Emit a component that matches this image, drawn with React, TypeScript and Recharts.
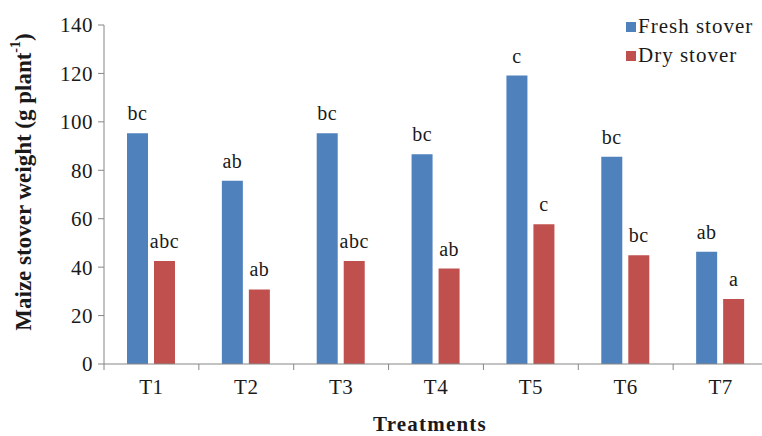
import { BarChart, Bar, XAxis, YAxis, LabelList, Label } from 'recharts';

const treatments = ['T1', 'T2', 'T3', 'T4', 'T5', 'T6', 'T7'];
const fresh = [95.3, 75.7, 95.3, 86.6, 119.1, 85.6, 46.4];
const dry = [42.5, 30.8, 42.5, 39.4, 57.7, 44.9, 26.8];
const freshLetters = ['bc', 'ab', 'bc', 'bc', 'c', 'bc', 'ab'];
const dryLetters = ['abc', 'ab', 'abc', 'ab', 'c', 'bc', 'a'];
const yTicks = [0, 20, 40, 60, 80, 100, 120, 140];

const FONT = '"Liberation Serif", "Times New Roman", serif';
const AXIS = '#868686';
const INK = '#1a1a1a';
const BLUE = '#4F81BD';
const RED = '#C0504D';
const W = 770, H = 436, LEFT = 104, RIGHT = 2, TOP = 25, XH = 72;
const BAND = (W - LEFT - RIGHT) / treatments.length;

const data = treatments.map((t, i) => ({ t, fresh: fresh[i], dry: dry[i], fl: freshLetters[i], dl: dryLetters[i] }));

function XTick({ x, y, payload, index }: any) {
  return (
    <g>
      <line x1={x - BAND / 2} x2={x - BAND / 2} y1={y} y2={y + 6} stroke={AXIS} />
      {index === treatments.length - 1 && <line x1={x + BAND / 2} x2={x + BAND / 2} y1={y} y2={y + 6} stroke={AXIS} />}
      <text x={x} y={y + 30} textAnchor="middle" fontSize={21} fontFamily={FONT} fill={INK} letterSpacing={0.5}>{payload.value}</text>
    </g>
  );
}

// significance letters above each bar
function Letter({ x, y, width, value }: any) {
  return (
    <text x={x + width / 2} y={y - 13} textAnchor="middle" fontSize={20} fontFamily={FONT} fill={INK} letterSpacing={0.5}>{value}</text>
  );
}

const legendRows = [
  { name: 'Fresh stover', color: BLUE },
  { name: 'Dry stover', color: RED },
];

export default function App() {
  return (
    <div style={{ position: 'absolute', left: 0, top: 0, width: 762, height: 436, overflow: 'hidden', background: '#fff' }}>
      <BarChart width={W} height={H} data={data} margin={{ top: TOP, right: RIGHT, left: 0, bottom: 0 }} barSize={21} barGap={6}>
        <XAxis dataKey="t" height={XH} stroke={AXIS} tickLine={false} tickSize={0} tickMargin={0} tick={<XTick />} interval={0}>
          <Label content={() => (
            <text x={430} y={431} textAnchor="middle" fontSize={21} fontWeight="bold" fontFamily={FONT} fill={INK} letterSpacing={1.2}>Treatments</text>
          )} />
        </XAxis>
        <YAxis width={LEFT} domain={[0, 140]} ticks={yTicks} interval={0} stroke={AXIS} tickSize={6} tickMargin={5}
          tick={{ fontSize: 21, fontFamily: FONT, fill: INK, letterSpacing: 0.5 }}>
          <Label content={() => (
            <text transform="translate(23,182) rotate(-90)" textAnchor="middle" dominantBaseline="central" fontSize={23} fontWeight="bold" fontFamily={FONT} fill={INK}>
              Maize stover weight (g plant<tspan dy={-8} fontSize={14}>-1</tspan><tspan dy={8}>)</tspan>
            </text>
          )} />
        </YAxis>
        <Bar dataKey="fresh" name="Fresh stover" fill={BLUE} isAnimationActive={false}>
          <LabelList dataKey="fl" content={<Letter />} />
        </Bar>
        <Bar dataKey="dry" name="Dry stover" fill={RED} isAnimationActive={false}>
          <LabelList dataKey="dl" content={<Letter />} />
        </Bar>
      </BarChart>
      <div style={{ position: 'absolute', left: 626, top: 12, fontFamily: "'Liberation Serif', serif", fontSize: 21, color: INK, letterSpacing: 1 }}>
        {legendRows.map(r => (
          <div key={r.name} style={{ display: 'flex', alignItems: 'center', height: 29, whiteSpace: 'nowrap' }}>
            <span style={{ width: 10, height: 10, background: r.color, marginRight: 2, display: 'inline-block' }} />
            {r.name}
          </div>
        ))}
      </div>
    </div>
  );
}
